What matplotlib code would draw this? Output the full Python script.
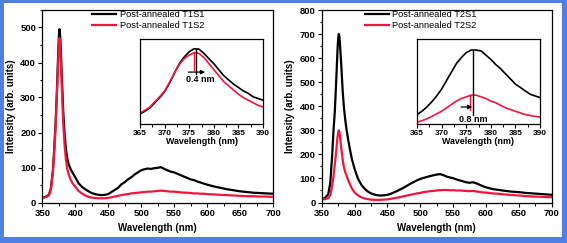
import numpy as np
import matplotlib
matplotlib.use("Agg")
import matplotlib.pyplot as plt
from matplotlib.patches import Rectangle
from matplotlib.ticker import MultipleLocator

plt.rcParams['font.family'] = ['Liberation Sans', 'DejaVu Sans']

# wavelength grid (nm)
wl = [350, 355, 360, 363, 366, 368, 370, 372, 374, 375, 376, 377, 378, 380, 382, 384, 386, 388, 390,
      393, 396, 400, 405, 410, 415, 420, 425, 430, 435, 440, 445, 450, 455, 460, 465, 470, 475, 480,
      485, 490, 495, 500, 505, 510, 515, 520, 525, 530, 535, 540, 545, 550, 555, 560, 565, 570, 575,
      580, 585, 590, 595, 600, 610, 620, 630, 640, 650, 660, 670, 680, 690, 700]

t1s1 = [14, 16, 22, 40, 90, 150, 220, 310, 420, 470, 495, 480, 440, 340, 250, 190, 150, 125, 110,
        95, 85, 72, 55, 45, 38, 32, 27, 24, 22, 21, 22, 24, 30, 36, 42, 52, 58, 66,
        72, 80, 86, 92, 95, 97, 96, 98, 99, 101, 96, 92, 88, 86, 82, 78, 74, 70, 66,
        64, 60, 57, 54, 51, 46, 42, 38, 35, 32, 30, 28, 27, 26, 25]
t1s2 = [14, 15, 20, 35, 85, 140, 210, 300, 400, 445, 470, 455, 410, 310, 220, 160, 120, 95, 80,
        65, 55, 45, 33, 26, 20, 16, 14, 13, 12, 12, 12, 13, 15, 17, 19, 21, 23, 24,
        26, 27, 28, 29, 30, 31, 31, 32, 33, 34, 33, 32, 31, 31, 30, 29, 28, 28, 27,
        26, 26, 25, 25, 24, 23, 22, 21, 20, 19, 18, 18, 17, 17, 16]
t2s1 = [15, 18, 35, 80, 200, 300, 380, 500, 630, 680, 700, 690, 650, 560, 460, 390, 340, 300, 265,
        220, 180, 140, 100, 75, 58, 46, 38, 33, 30, 29, 30, 32, 36, 42, 48, 55, 62, 70,
        78, 85, 92, 98, 102, 106, 110, 113, 116, 118, 114, 108, 104, 101, 96, 92, 88, 84, 82,
        84, 80, 74, 68, 63, 56, 52, 48, 45, 43, 40, 38, 36, 34, 32]
t2s2 = [13, 14, 18, 30, 70, 110, 160, 210, 270, 290, 300, 295, 270, 220, 175, 145, 125, 110, 95,
        75, 58, 42, 30, 22, 17, 14, 12, 11, 11, 11, 12, 13, 15, 18, 20, 23, 26, 29,
        32, 35, 38, 40, 43, 45, 47, 48, 50, 51, 52, 52, 51, 51, 50, 50, 49, 48, 47,
        48, 46, 44, 42, 41, 38, 36, 33, 31, 29, 27, 25, 24, 23, 22]

# inset (365-390 nm, 1 nm step)
wl_in = list(range(365, 391))
t1s1_in = [67, 84, 106, 140, 174, 213, 269, 336, 398, 442, 476, 496, 493, 465, 431, 398, 358, 319,
           291, 263, 241, 218, 202, 179, 168, 157]
t1s2_in = [73, 90, 112, 146, 179, 218, 274, 336, 392, 431, 454, 470, 465, 437, 398, 358, 319, 280,
           252, 224, 196, 174, 157, 140, 123, 112]
t2s1_in = [124, 154, 192, 238, 291, 352, 428, 504, 580, 633, 678, 701, 701, 694, 656, 618, 572, 534,
           488, 443, 397, 367, 336, 306, 291, 276]
t2s2_in = [55, 70, 86, 108, 131, 154, 184, 215, 245, 268, 283, 298, 298, 283, 268, 245, 230, 207,
           184, 169, 154, 139, 124, 116, 108, 101]

BLACK = '#000000'
RED = '#f5143c'
W, H = 567, 243

fig = plt.figure(figsize=(W / 100, H / 100), dpi=100)
fig.patch.set_facecolor('white')


def px(x0, y0, x1, y1):
    return [x0 / W, 1 - y1 / H, (x1 - x0) / W, (y1 - y0) / H]


def style(ax, size):
    for s in ax.spines.values():
        s.set_linewidth(0.9)
    ax.tick_params(which='both', direction='out', top=False, right=False, labelsize=size, pad=1.5)
    ax.tick_params(which='major', length=3, width=0.8)
    ax.tick_params(which='minor', length=1.8, width=0.7)
    for lab in ax.get_xticklabels() + ax.get_yticklabels():
        lab.set_fontweight('bold')


def main_panel(rect, s1, s2, lab1, lab2, ytop, leg_x):
    ax = fig.add_axes(px(*rect))
    ax.plot(wl, s1, color=BLACK, lw=1.6, label=lab1)
    ax.plot(wl, s2, color=RED, lw=1.6, label=lab2)
    ax.set_xlim(350, 700)
    ax.set_ylim(0, ytop)
    ax.xaxis.set_major_locator(MultipleLocator(50))
    ax.xaxis.set_minor_locator(MultipleLocator(25))
    ax.yaxis.set_major_locator(MultipleLocator(100))
    ax.yaxis.set_minor_locator(MultipleLocator(50))
    ax.set_xlabel('Wavelength (nm)', fontsize=7, fontweight='bold', labelpad=4)
    ax.set_ylabel('Intensity (arb. units)', fontsize=7, fontweight='bold', labelpad=3)
    style(ax, 6.8)
    ax.legend(loc='upper left', bbox_to_anchor=(leg_x, 1.02), frameon=False, fontsize=6.7,
              handlelength=2.6, handletextpad=0.4, labelspacing=0.25, borderaxespad=0)
    return ax


def inset(rect, s1, s2, ylim):
    ax = fig.add_axes(px(*rect))
    ax.plot(wl_in, s1, color=BLACK, lw=1.2)
    ax.plot(wl_in, s2, color=RED, lw=1.2)
    ax.set_xlim(365, 390)
    ax.set_ylim(*ylim)
    ax.xaxis.set_major_locator(MultipleLocator(5))
    ax.xaxis.set_minor_locator(MultipleLocator(2.5))
    ax.set_yticks([])
    ax.set_xlabel('Wavelength (nm)', fontsize=6.4, fontweight='bold', labelpad=-0.5)
    style(ax, 6.0)
    return ax


axl = main_panel((42.3, 10, 273, 202.5), t1s1, t1s2, 'Post-annealed T1S1', 'Post-annealed T1S2', 550, 0.2)
axr = main_panel((321.7, 10, 551.7, 202.5), t2s1, t2s2, 'Post-annealed T2S1', 'Post-annealed T2S2', 800, 0.17)

inl = inset((140, 39, 263, 124), t1s1_in, t1s2_in, (0, 560))
inl.plot([376.4, 376.4], [496, 330], color=BLACK, lw=1.0)
inl.plot([376.0, 376.0], [470, 358], color=RED, lw=1.0)
inl.annotate('', xy=(378.8, 342), xytext=(374.3, 342),
             arrowprops=dict(arrowstyle='-|>', color=BLACK, lw=0.9, mutation_scale=6))
inl.text(377.2, 291, '0.4 nm', fontsize=6.5, fontweight='bold', ha='center', va='center')

inr = inset((417, 39, 540, 124), t2s1_in, t2s2_in, (40, 800))
inr.plot([376.4, 376.4], [701, 124], color=BLACK, lw=1.0)
inr.plot([375.7, 375.7], [298, 169], color=RED, lw=1.0)
inr.annotate('', xy=(376.8, 192), xytext=(373.4, 192),
             arrowprops=dict(arrowstyle='-|>', color=BLACK, lw=0.9, mutation_scale=6))
inr.text(376.4, 78, '0.8 nm', fontsize=6.5, fontweight='bold', ha='center', va='center')

# blue frame round the picture
frame = '#4f7fe0'
for x0, y0, w, h in [(0, 0, 4, H), (0, 0, W, 3), (W - 5, 0, 5, H), (0, H - 6, W, 6)]:
    fig.add_artist(Rectangle((x0 / W, 1 - (y0 + h) / H), w / W, h / H,
                             transform=fig.transFigure, color=frame, lw=0))

fig.savefig('out.png', dpi=100)
